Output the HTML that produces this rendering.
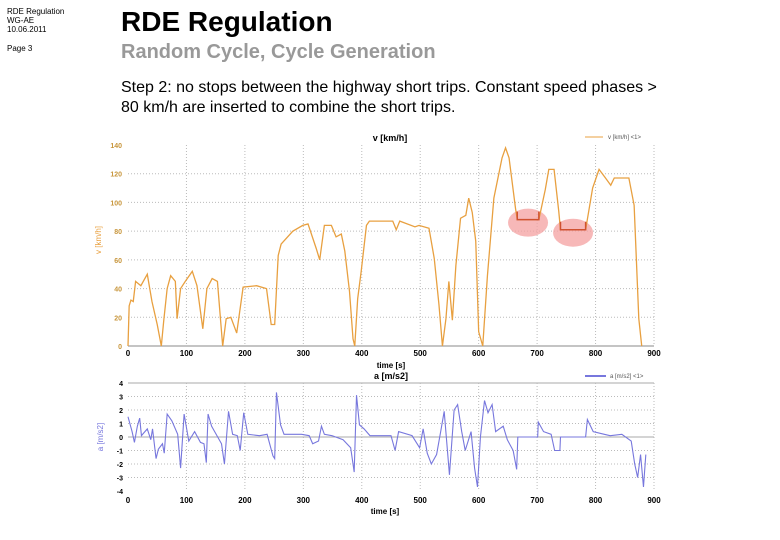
<!DOCTYPE html>
<html><head><meta charset="utf-8">
<style>
body{margin:0;width:780px;height:540px;background:#fff;font-family:"Liberation Sans",sans-serif;overflow:hidden;position:relative}
.abs{position:absolute;margin:0}
</style></head>
<body>
<div class="abs" style="left:7px;top:7px;font-size:8px;line-height:9px;color:#000">RDE Regulation<br>WG-AE<br>10.06.2011</div>
<div class="abs" style="left:7px;top:44px;font-size:8px;color:#000">Page 3</div>
<div class="abs" style="left:121px;top:6px;font-size:28px;font-weight:bold;color:#000">RDE Regulation</div>
<div class="abs" style="left:121px;top:41px;font-size:20px;font-weight:bold;color:#999">Random Cycle, Cycle Generation</div>
<div class="abs" style="left:121px;top:78px;font-size:16px;line-height:20px;color:#000;width:550px">Step 2: no stops between the highway short trips. Constant speed phases &gt; 80 km/h are inserted to combine the short trips.</div>
<svg class="abs" style="left:0;top:0" width="780" height="540" id="chart"></svg>
<script>
const vTime=[0,2,5,9,13,22,33,41,50,57,61,67,73,81,84,90,98,110,118,128,135,144,153,162,168,176,186,197,220,237,245,251,257,262,282,299,308,322,328,336,348,356,365,371,379,385,388,393,399,408,413,453,459,465,491,498,515,524,532,538,544,549,555,561,569,578,583,589,595,600,607,615,626,640,646,652,663,666,703,714,720,729,737,740,783,795,806,817,826,832,857,866,874,879];
const vSpeed=[0,28,32,31,45,42,50,31,15,0,17,40,49,45,19,40,45,52,42,12,40,47,45,0,19,20,9,41,42,40,15,15,63,71,80,84,85,68,60,84,84,76,78,66,38,5,0,33,52,84,87,87,81,87,83,84,82,61,29,0,19,45,18,56,89,91,103,93,73,10,0,49,103,131,138,131,96,88,88,109,123,123,94,81,81,110,123,117,112,117,117,98,19,0];
const aTime=[0,7,11,16,20,23,33,39,42,48,52,59,62,67,75,85,90,96,104,114,124,130,134,137,143,160,165,172,179,187,192,198,205,225,238,248,251,254,261,267,297,310,316,326,331,336,349,368,381,387,391,396,404,414,450,457,463,486,499,505,512,519,528,535,541,550,558,564,571,577,587,593,598,603,610,616,623,629,642,649,659,665,667,701,702,711,724,730,739,740,783,786,796,815,825,845,861,867,872,877,882,886];
const aVal=[1.5,0.4,-0.4,0.8,1.4,0.1,0.6,-0.2,0.6,-1.6,-0.9,-0.5,-1.2,1.7,1.2,0.2,-2.3,1.7,-0.3,0.4,-0.4,-0.5,-1.9,1.7,0.8,-0.5,-2.0,1.9,0.2,0.1,-1.0,1.8,0.2,0.1,0.2,-1.4,-1.6,3.3,0.9,0.2,0.2,0.1,-0.5,-0.3,0.8,0.2,0.1,-0.2,-0.8,-2.6,3.1,0.9,0.6,0.1,0.1,-1.0,0.4,0.1,-0.8,0.6,-1.2,-2.0,-1.3,0.4,1.9,-2.8,2.0,2.4,0.4,-1.0,0.4,-2.3,-3.7,0,2.7,1.8,2.4,0.4,0.8,-0.2,-1.0,-2.4,0,0,1.1,0.4,0.2,-1.0,-1.0,0,0,1.3,0.4,0.2,0.1,0.2,-0.3,-2.0,-3.0,-1.3,-3.7,-1.3];
const xTicks=[0,100,200,300,400,500,600,700,800,900];
const vTicks=[0,20,40,60,80,100,120,140];
const aTicks=[-4,-3,-2,-1,0,1,2,3,4];
const constPhases=[[666,703,88],[740,783,81]];

const svg=document.getElementById('chart');
const NS='http://www.w3.org/2000/svg';
function mk(tag,attrs,parent){const e=document.createElementNS(NS,tag);for(const k in attrs)e.setAttribute(k,attrs[k]);(parent||svg).appendChild(e);return e;}
const X0=128,X1=654;
const x=t=>X0+(t/900)*(X1-X0);
const yv=v=>346-(v/140)*(346-145);
const ya=a=>437-(a/4)*54;

const g1=mk('g',{});
xTicks.forEach(t=>{ if(t>0){const l=mk('line',{x1:x(t),x2:x(t),y1:145,y2:346,stroke:'#bbb','stroke-dasharray':'1,2'},g1);}
 const tx=mk('text',{x:x(t),y:356,'font-size':8,'font-weight':'bold','text-anchor':'middle',fill:'#000'},g1);tx.textContent=t;});
vTicks.forEach(v=>{ if(v>0&&v<140){const l=mk('line',{x1:X0,x2:X1,y1:yv(v),y2:yv(v),stroke:'#bbb','stroke-dasharray':'1,2'},g1);}
 const tx=mk('text',{x:122,y:yv(v)+3,'font-size':7,'font-weight':'bold','text-anchor':'end',fill:'#c8963c'},g1);tx.textContent=v;});
mk('line',{x1:X0,x2:X1,y1:346,y2:346,stroke:'#888'},g1);
let t1=mk('text',{x:390,y:141,'font-size':9,'font-weight':'bold','text-anchor':'middle'},g1);t1.textContent='v  [km/h]';
let yl=mk('text',{x:0,y:0,'font-size':8,'text-anchor':'middle',fill:'#e8a040',transform:'translate(101,240) rotate(-90)'},g1);yl.textContent='v [km/h]';
let xl=mk('text',{x:391,y:368,'font-size':8,'font-weight':'bold','text-anchor':'middle'},g1);xl.textContent='time [s]';
let lg=mk('line',{x1:585,x2:603,y1:137,y2:137,stroke:'#e8a040'},g1);
let lt=mk('text',{x:608,y:139,'font-size':6,fill:'#555'},g1);lt.textContent='v [km/h] <1>';
constPhases.forEach(p=>{const e=mk('ellipse',{cx:x((p[0]+p[1])/2),cy:yv(p[2])+3,rx:20,ry:14,fill:'#f4a0a0',opacity:0.75},g1);});
let vl=mk('polyline',{points:vTime.map((t,i)=>x(t)+','+yv(vSpeed[i])).join(' '),fill:'none',stroke:'#e8a040','stroke-width':1.3},g1);
constPhases.forEach(p=>{const s=mk('polyline',{points:`${x(p[0])},${yv(p[2])-8} ${x(p[0])},${yv(p[2])} ${x(p[1])},${yv(p[2])} ${x(p[1])},${yv(p[2])-8}`,fill:'none',stroke:'#d05030','stroke-width':1.5},g1);});

const g2=mk('g',{});
mk('line',{x1:X0,x2:X1,y1:383,y2:383,stroke:'#aaa'},g2);
xTicks.forEach(t=>{ if(t>0){const l=mk('line',{x1:x(t),x2:x(t),y1:383,y2:491,stroke:'#bbb','stroke-dasharray':'1,2'},g2);}
 const tx=mk('text',{x:x(t),y:503,'font-size':8,'font-weight':'bold','text-anchor':'middle'},g2);tx.textContent=t;});
aTicks.forEach(a=>{ if(a>-4&&a<4){const l=mk('line',{x1:X0,x2:X1,y1:ya(a),y2:ya(a),stroke:a===0?'#aaa':'#bbb','stroke-dasharray':a===0?'':'1,2'},g2);}
 const tx=mk('text',{x:123,y:ya(a)+3,'font-size':7,'font-weight':'bold','text-anchor':'end',fill:'#000'},g2);tx.textContent=a;});
let t2=mk('text',{x:391,y:379,'font-size':9,'font-weight':'bold','text-anchor':'middle'},g2);t2.textContent='a  [m/s2]';
let yl2=mk('text',{x:0,y:0,'font-size':8,'text-anchor':'middle',fill:'#7777dd',transform:'translate(103,437) rotate(-90)'},g2);yl2.textContent='a [m/s2]';
let xl2=mk('text',{x:385,y:514,'font-size':8,'font-weight':'bold','text-anchor':'middle'},g2);xl2.textContent='time [s]';
let lg2=mk('line',{x1:585,x2:606,y1:376,y2:376,stroke:'#7777dd','stroke-width':2},g2);
let lt2=mk('text',{x:610,y:378,'font-size':6,fill:'#555'},g2);lt2.textContent='a [m/s2] <1>';
let al=mk('polyline',{points:aTime.map((t,i)=>x(t)+','+ya(aVal[i])).join(' '),fill:'none',stroke:'#7777dd','stroke-width':1.1},g2);
</script>
</body></html>
